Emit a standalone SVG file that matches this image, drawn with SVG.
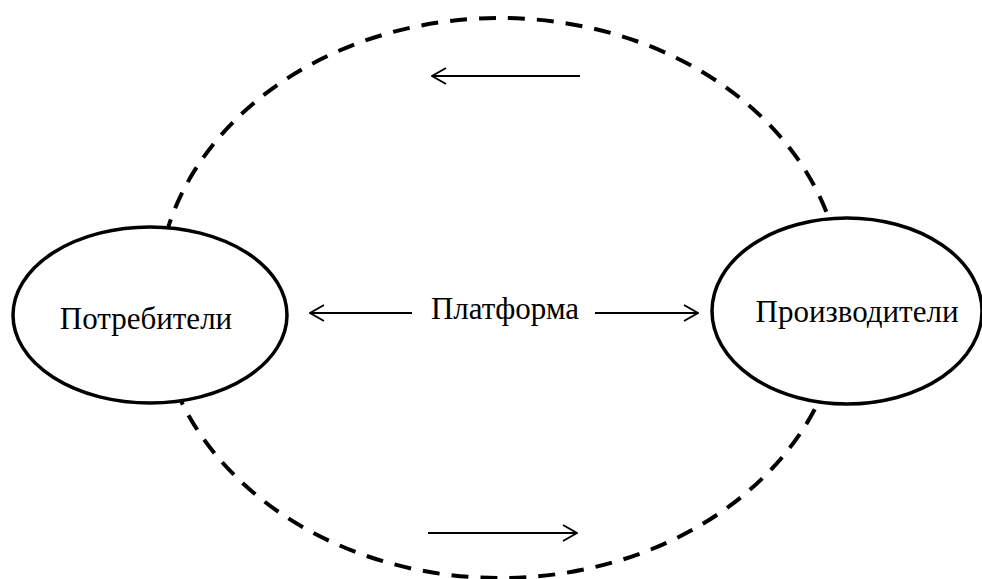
<svg xmlns="http://www.w3.org/2000/svg" width="982" height="579" viewBox="0 0 982 579">
<defs>
<style>
.node{fill:#fff;stroke:#000;stroke-width:3.5}
.cycle{fill:none;stroke:#000;stroke-width:4;stroke-dasharray:17 12}
.arr{fill:none;stroke:#000;stroke-width:2}
.lbl{font-family:"Liberation Serif","Times New Roman",serif;font-size:31px;fill:#000;text-anchor:middle}
</style>
<marker id="ah" viewBox="0 0 16 18" refX="15" refY="9" markerWidth="16" markerHeight="18" markerUnits="userSpaceOnUse" orient="auto">
<path d="M1,1 L15,9 L1,17" fill="none" stroke="#000" stroke-width="2"/>
</marker>
</defs>
<g id="connectors">
<ellipse class="cycle" cx="500" cy="298" rx="343" ry="280"/>
<line class="arr" x1="580" y1="76" x2="432" y2="76" marker-end="url(#ah)"/>
<line class="arr" x1="428" y1="533" x2="577" y2="533" marker-end="url(#ah)"/>
<line class="arr" x1="412" y1="313" x2="310" y2="313" marker-end="url(#ah)"/>
<line class="arr" x1="595" y1="313" x2="698" y2="313" marker-end="url(#ah)"/>
<text class="lbl" x="505" y="319">Платформа</text>
</g>
<g id="consumers">
<ellipse class="node" cx="150" cy="315" rx="137" ry="88"/>
<text class="lbl" x="146" y="329">Потребители</text>
</g>
<g id="producers">
<ellipse class="node" cx="847" cy="311" rx="135" ry="93"/>
<text class="lbl" x="857" y="322">Производители</text>
</g>
</svg>
